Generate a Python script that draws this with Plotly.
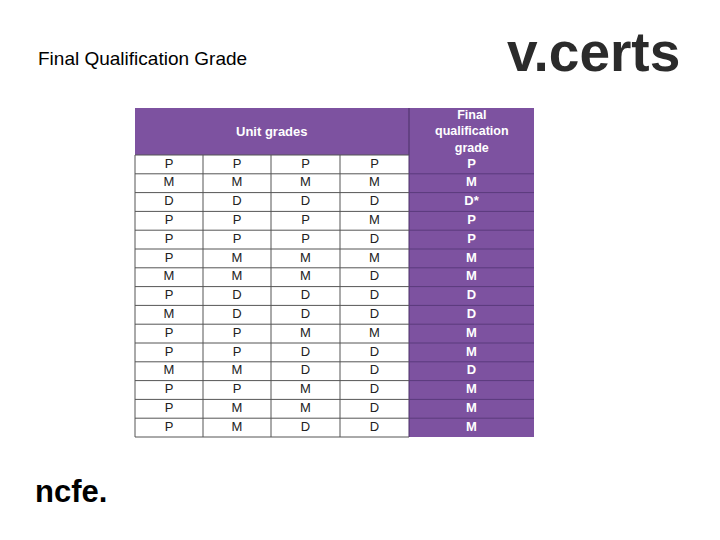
import plotly.graph_objects as go

# table data
unit_grades = [
    ["P", "P", "P", "P"],
    ["M", "M", "M", "M"],
    ["D", "D", "D", "D"],
    ["P", "P", "P", "M"],
    ["P", "P", "P", "D"],
    ["P", "M", "M", "M"],
    ["M", "M", "M", "D"],
    ["P", "D", "D", "D"],
    ["M", "D", "D", "D"],
    ["P", "P", "M", "M"],
    ["P", "P", "D", "D"],
    ["M", "M", "D", "D"],
    ["P", "P", "M", "D"],
    ["P", "M", "M", "D"],
    ["P", "M", "D", "D"],
]
final_grades = ["P", "M", "D*", "P", "P", "M", "M", "D", "D", "M", "M", "D", "M", "M", "M"]
header_unit = "Unit grades"
header_final = "Final<br>qualification<br>grade"

PURPLE = "#7d52a0"
col_x = [135, 203, 271, 340, 409, 534]
top, head_bot, bottom = 108, 155, 437
n = len(final_grades)
row_h = (bottom - head_bot) / n
OFF = 8  # page body margin

fig = go.Figure()
shapes = [
    dict(type="rect", x0=col_x[0], x1=col_x[4], y0=top, y1=head_bot, fillcolor=PURPLE, line_width=0),
    dict(type="rect", x0=col_x[4], x1=col_x[5], y0=top, y1=bottom, fillcolor=PURPLE, line_width=0),
    dict(type="line", x0=col_x[4], x1=col_x[4], y0=top, y1=bottom, line=dict(color="#4a3066", width=1)),
]
for i in range(n + 1):
    y = head_bot + i * row_h
    shapes.append(dict(type="line", x0=col_x[0], x1=col_x[4], y0=y, y1=y, line=dict(color="#555555", width=1)))
    if 0 < i < n:
        shapes.append(dict(type="line", x0=col_x[4], x1=col_x[5], y0=y, y1=y, line=dict(color="#5a3a7c", width=1)))
for x in col_x[:4]:
    shapes.append(dict(type="line", x0=x, x1=x, y0=head_bot, y1=bottom, line=dict(color="#555555", width=1)))
for s in shapes:
    s["layer"] = "below"

xs, ys, ts = [], [], []
for r, row in enumerate(unit_grades):
    for c, g in enumerate(row):
        xs.append((col_x[c] + col_x[c + 1]) / 2)
        ys.append(head_bot + (r + 0.5) * row_h)
        ts.append(g)
fig.add_trace(go.Scatter(x=xs, y=ys, text=ts, mode="text", hoverinfo="skip",
                         textfont=dict(family="Arial, Liberation Sans", size=13, color="#222222")))
fig.add_trace(go.Scatter(x=[(col_x[4] + col_x[5]) / 2] * n,
                         y=[head_bot + (r + 0.5) * row_h for r in range(n)],
                         text=["<b>%s</b>" % g for g in final_grades], mode="text", hoverinfo="skip",
                         textfont=dict(family="Arial, Liberation Sans", size=13, color="white")))

anns = [
    dict(x=(col_x[0] + col_x[4]) / 2, y=(top + head_bot) / 2, text="<b>" + header_unit + "</b>",
         font=dict(size=13, color="white")),
    dict(x=(col_x[4] + col_x[5]) / 2, y=(top + head_bot) / 2, text="<b>" + header_final + "</b>",
         font=dict(size=12.5, color="white")),
    dict(x=36, y=58, text="Final Qualification Grade", xanchor="left",
         font=dict(size=19, color="black")),
    dict(x=505, y=52, text="<b>v.certs</b>", xanchor="left",
         font=dict(size=55, color="#2b2b2b", family="Arial, Liberation Sans")),
    dict(x=33, y=491, text="<b>ncfe.</b>", xanchor="left",
         font=dict(size=31, color="black", family="Arial, Liberation Sans")),
]
for a in anns:
    a.update(xref="x", yref="y", showarrow=False)
    a["font"].setdefault("family", "Arial, Liberation Sans")

fig.update_layout(
    width=720, height=540, margin=dict(l=0, r=0, t=0, b=0),
    plot_bgcolor="white", paper_bgcolor="white", showlegend=False,
    shapes=shapes, annotations=anns,
    xaxis=dict(range=[OFF, 720 + OFF], visible=False, fixedrange=True),
    yaxis=dict(range=[540 + OFF, OFF], visible=False, fixedrange=True),
)
fig.write_html("out.html")
